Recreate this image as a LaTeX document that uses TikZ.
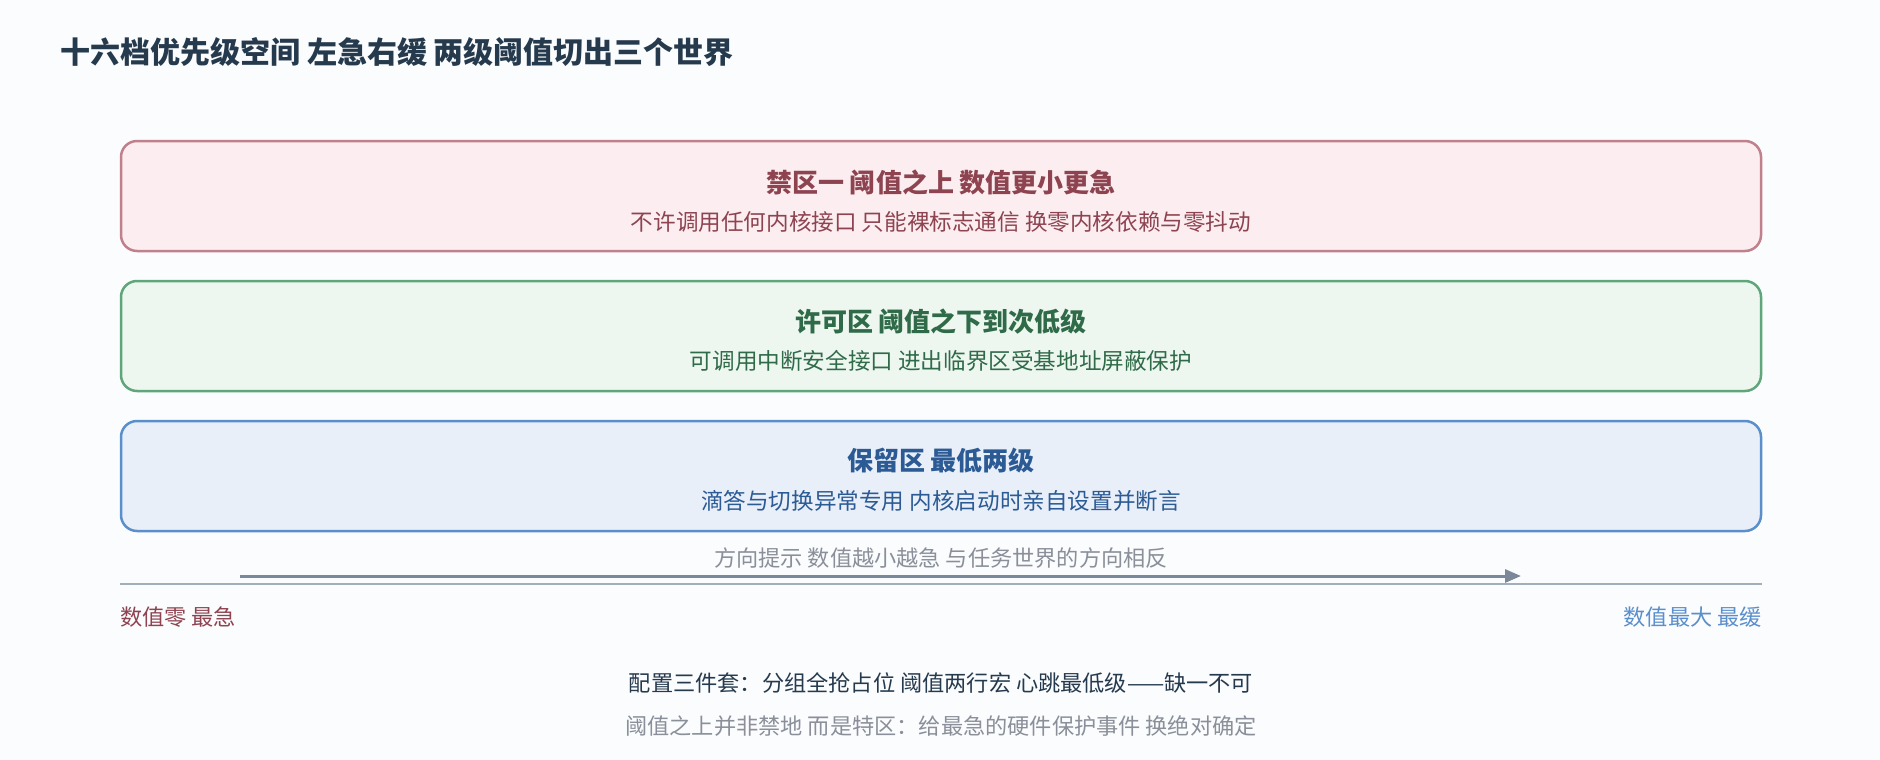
\documentclass[tikz,border=0pt]{standalone}
\usepackage{fontspec}
\setmainfont{Noto Sans CJK SC}
\usetikzlibrary{arrows.meta, positioning}

\definecolor{bgcol}{HTML}{FBFCFE}
\definecolor{inkcol}{HTML}{263A4E}
\definecolor{mutecol}{HTML}{8A8F99}
\definecolor{forbidfill}{HTML}{FCEEF0}
\definecolor{forbidline}{HTML}{C0808C}
\definecolor{forbidtext}{HTML}{8E4350}
\definecolor{allowfill}{HTML}{EEF6F0}
\definecolor{allowline}{HTML}{5FA67A}
\definecolor{allowtext}{HTML}{2F6B48}
\definecolor{reservefill}{HTML}{E8EFF9}
\definecolor{reserveline}{HTML}{5B8FCC}
\definecolor{reservetext}{HTML}{2B5A94}
\definecolor{arrowcol}{HTML}{7A8899}
\definecolor{axiscol}{HTML}{A3AEBB}

\begin{document}
\begin{tikzpicture}[x=1pt, y=-1pt,
      zone/.style={rectangle, rounded corners=16pt, line width=2.5pt, minimum width=1640pt, minimum height=110pt},
      forbid/.style={zone, draw=forbidline, fill=forbidfill},
      allow/.style={zone, draw=allowline, fill=allowfill},
      reserve/.style={zone, draw=reserveline, fill=reservefill},
      head/.style={inner sep=0pt, font=\fontsize{26}{30}\selectfont\bfseries},
      sub/.style={inner sep=0pt, font=\fontsize{22.6}{27}\selectfont},
      note/.style={inner sep=0pt, font=\fontsize{22.2}{26}\selectfont}]

      \fill[bgcol] (0,0) rectangle (1880,760);
      \useasboundingbox (0,0) rectangle (1880,760);

      \node[inner sep=0pt, anchor=west, text=inkcol, font=\fontsize{30}{34}\selectfont\bfseries] (title) at (60,52) {十六档优先级空间 左急右缓 两级阈值切出三个世界};

      % three worlds
      \node[forbid] (forbid) at (941,196) {};
      \node[head, text=forbidtext] (forbidhead) at (941,182) {禁区一 阈值之上 数值更小更急};
      \node[sub, text=forbidtext] (forbidsub) at (941,222) {不许调用任何内核接口 只能裸标志通信 换零内核依赖与零抖动};

      \node[allow] (allow) at (941,336) {};
      \node[head, text=allowtext] (allowhead) at (941,322) {许可区 阈值之下到次低级};
      \node[sub, text=allowtext] (allowsub) at (941,361) {可调用中断安全接口 进出临界区受基地址屏蔽保护};

      \node[reserve] (reserve) at (941,476) {};
      \node[head, text=reservetext] (reservehead) at (941,461) {保留区 最低两级};
      \node[sub, text=reservetext] (reservesub) at (941,501) {滴答与切换异常专用 内核启动时亲自设置并断言};

      % direction
      \node[note, text=mutecol] (hint) at (941,558) {方向提示 数值越小越急 与任务世界的方向相反};
      \coordinate (dirstart) at (240,576);
      \coordinate (dirend) at (1521,576);
      \draw[-{Triangle[length=16pt, width=13pt]}, line width=3pt, arrowcol] (dirstart) -- (dirend);

      \coordinate (axisleft) at (120,584);
      \coordinate (axisright) at (1762,584);
      \draw[line width=2.5pt, axiscol] (axisleft) -- (axisright);

      \node[note, anchor=west, text=forbidtext] (zero) at (120,617) {数值零 最急};
      \node[note, anchor=east, text=reserveline] (maxval) at (1762,617) {数值最大 最缓};

      % footer
      \node[note, text=inkcol] (recipe) at (941,683) {配置三件套：分组全抢占位 阈值两行宏 心跳最低级——缺一不可};
      \node[note, text=mutecol] (moral) at (941,726) {阈值之上并非禁地 而是特区：给最急的硬件保护事件 换绝对确定};
    \end{tikzpicture}
\end{document}
